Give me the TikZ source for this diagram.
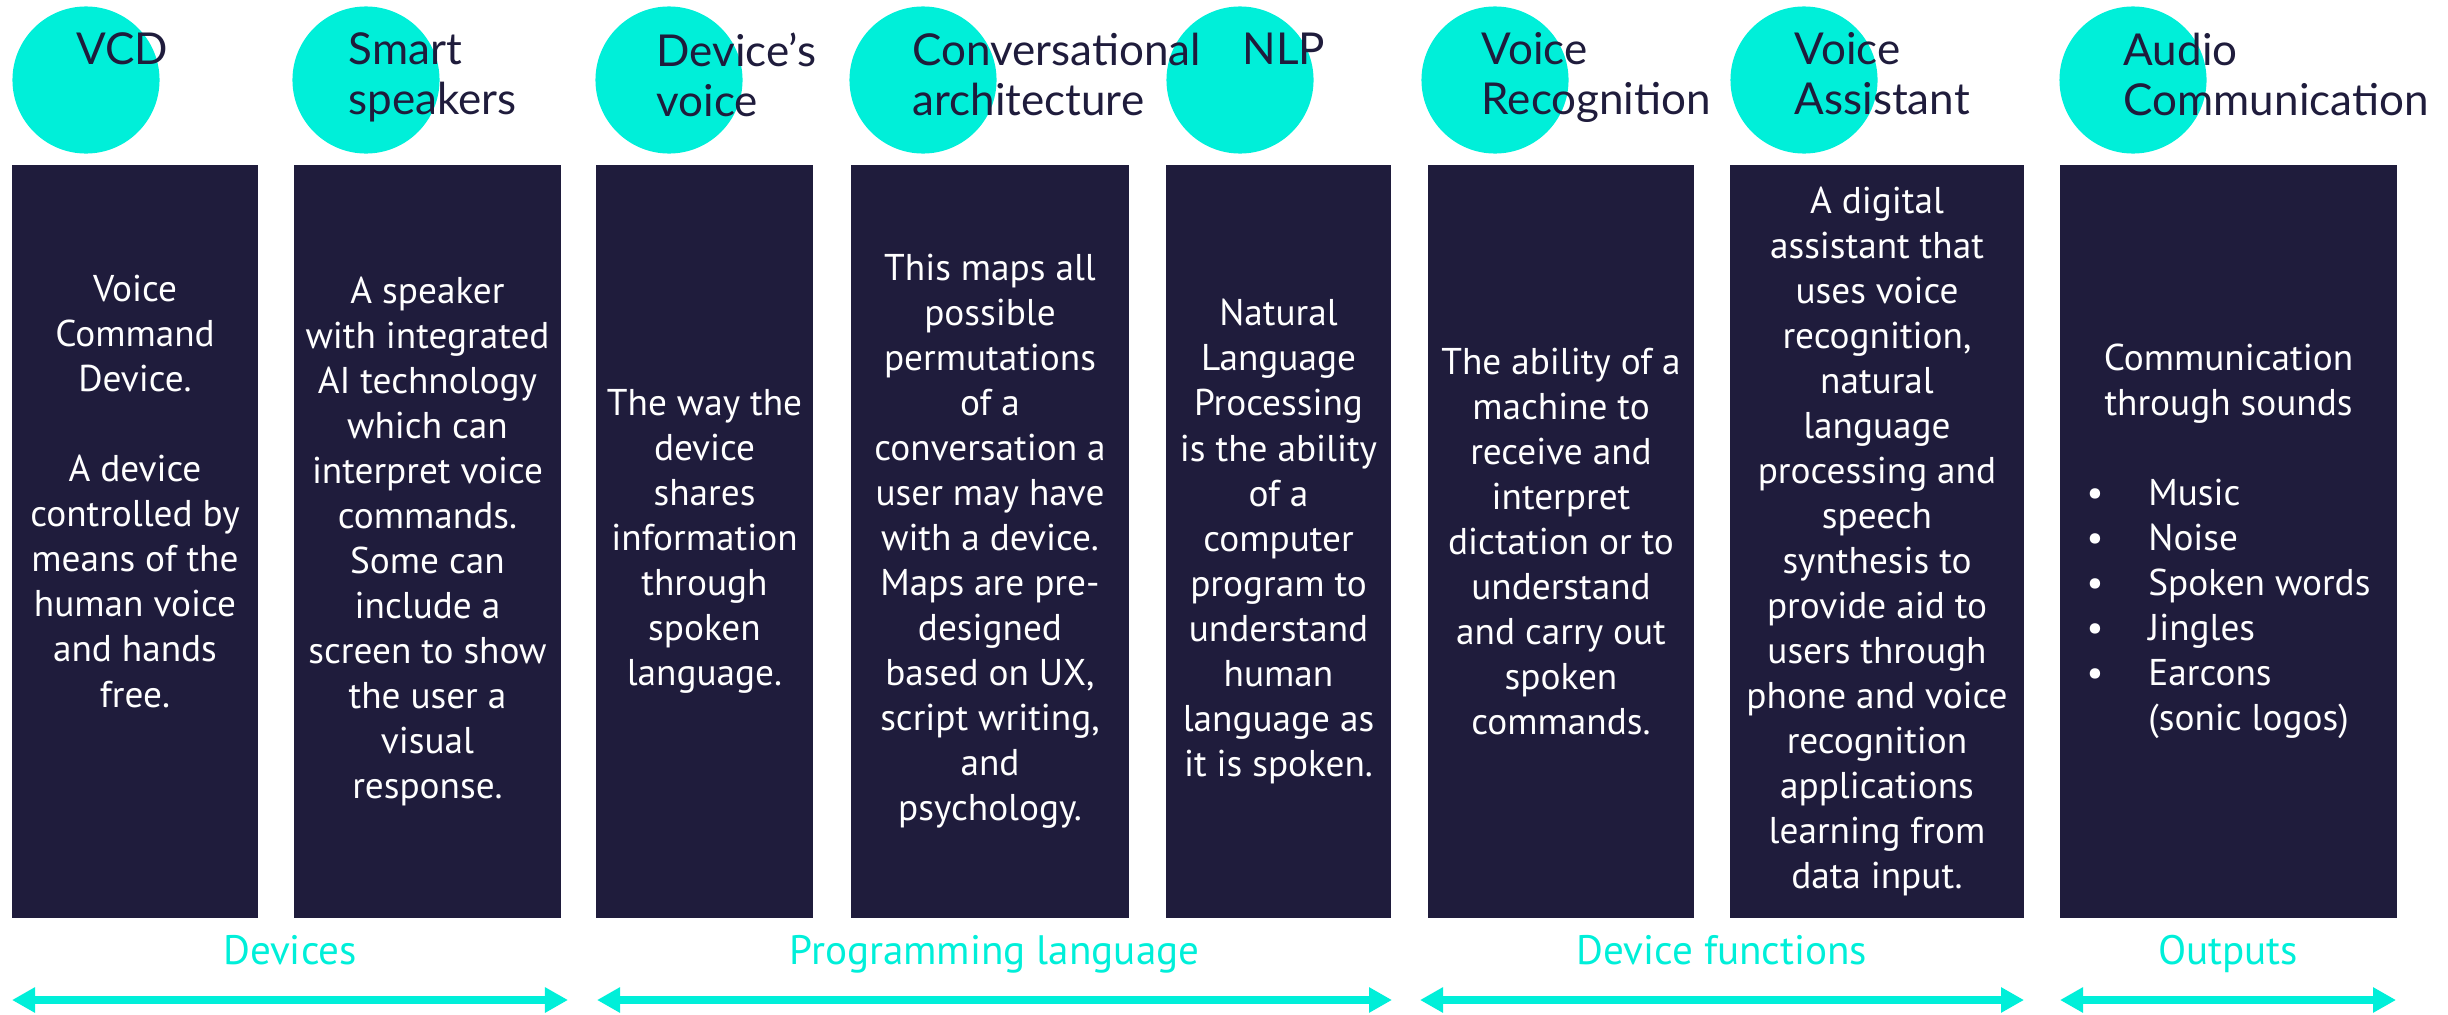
\documentclass[tikz,border=0pt]{standalone}
\usepackage{fontspec}
\setmainfont{PT Sans}
\newfontfamily\headfont{Lato}
\usetikzlibrary{arrows.meta,fit}

\definecolor{navy}{HTML}{1F1C3C}
\definecolor{aqua}{HTML}{00EFD9}

\tikzset{
  panel/.style={fill=navy, inner sep=0pt},
  blob/.style={circle, fill=aqua, minimum size=1.47cm, inner sep=0pt},
  head/.style={anchor=north west, align=left, text=navy, inner sep=0pt,
    font=\headfont\fontsize{12.5}{14.2}\selectfont},
  body/.style={align=center, text=white, inner sep=0pt,
    font=\fontsize{10.6}{12.8}\selectfont},
  group/.style={aqua, line width=0.08cm,
    {Triangle[length=0.23cm,width=0.24cm]}-{Triangle[length=0.23cm,width=0.24cm]}},
  grouplabel/.style={text=aqua, anchor=base, yshift=0.35cm,
    font=\fontsize{11.7}{14}\selectfont}
}

\begin{document}
\begin{tikzpicture}[x=0.01cm, y=-0.01cm]
\useasboundingbox (0,0) rectangle (2448,1015);

% panels and dots
\foreach\n/\l/\r/\c in {vcd/12/258/86, smart/294/561/366, voice/596/813/669,
    conv/851/1129/923, nlp/1166/1391/1240, vr/1428/1694/1495,
    va/1730/2024/1804, ac/2060/2397/2133}
  {
  \node[panel, fit={(\l,165) (\r,918)}] (\n) {};
  \node[blob] (\n dot) at (\c,80) {};
  }

% headings
\node[head] (vcdhead) at (76,32) {VCD};
\node[head] (smarthead) at (348,32) {Smart\\speakers};
\node[head] (voicehead) at (656,32) {Device’s\\voice};
\node[head] (convhead) at (912,32) {Conversational\\architecture};
\node[head] (nlphead) at (1242,32) {NLP};
\node[head] (vrhead) at (1481,32) {Voice\\Recognition};
\node[head] (vahead) at (1794,32) {Voice\\Assistant};
\node[head] (achead) at (2123,32) {Audio\\Communication};

% panel texts
\node[body] (vcdtxt) at ([yshift=0.5cm]vcd.center)
  {Voice\\Command\\Device.\\ \\A device\\controlled by\\means of the\\human voice\\and hands\\free.};
\node[body] (smarttxt) at (smart.center)
  {A speaker\\with integrated\\AI technology\\which can\\interpret voice\\commands.\\Some can\\include a\\screen to show\\the user a\\visual\\response.};
\node[body] (voicetxt) at (voice.center)
  {The way the\\device\\shares\\information\\through\\spoken\\language.};
\node[body] (convtxt) at (conv.center)
  {This maps all\\possible\\permutations\\of a\\conversation a\\user may have\\with a device.\\Maps are pre-\\designed\\based on UX,\\script writing,\\and\\psychology.};
\node[body] (nlptxt) at (nlp.center)
  {Natural\\Language\\Processing\\is the ability\\of a\\computer\\program to\\understand\\human\\language as\\it is spoken.};
\node[body] (vrtxt) at (vr.center)
  {The ability of a\\machine to\\receive and\\interpret\\dictation or to\\understand\\and carry out\\spoken\\commands.};
\node[body] (vatxt) at (va.center)
  {A digital\\assistant that\\uses voice\\recognition,\\natural\\language\\processing and\\speech\\synthesis to\\provide aid to\\users through\\phone and voice\\recognition\\applications\\learning from\\data input.};
\node[body] (actxt) at (ac.center)
  {\begin{tabular}{@{}l@{\hspace{0.45cm}}l@{}}
  \multicolumn{2}{@{}c@{}}{Communication}\\
  \multicolumn{2}{@{}c@{}}{through sounds}\\
  \\
  \textbullet & Music\\
  \textbullet & Noise\\
  \textbullet & Spoken words\\
  \textbullet & Jingles\\
  \textbullet & Earcons\\
   & (sonic logos)
  \end{tabular}};

% group arrows
\coordinate (devL) at (12,1000);
\coordinate (devR) at (568,1000);
\coordinate (progL) at (597,1000);
\coordinate (progR) at (1392,1000);
\coordinate (funL) at (1420,1000);
\coordinate (funR) at (2024,1000);
\coordinate (outL) at (2060,1000);
\coordinate (outR) at (2396,1000);

\draw[group] (devL) -- (devR) node[grouplabel, midway] (devlbl) {Devices};
\draw[group] (progL) -- (progR) node[grouplabel, midway] (proglbl) {Programming language};
\draw[group] (funL) -- (funR) node[grouplabel, midway] (funlbl) {Device functions};
\draw[group] (outL) -- (outR) node[grouplabel, midway] (outlbl) {Outputs};

\end{tikzpicture}
\end{document}
